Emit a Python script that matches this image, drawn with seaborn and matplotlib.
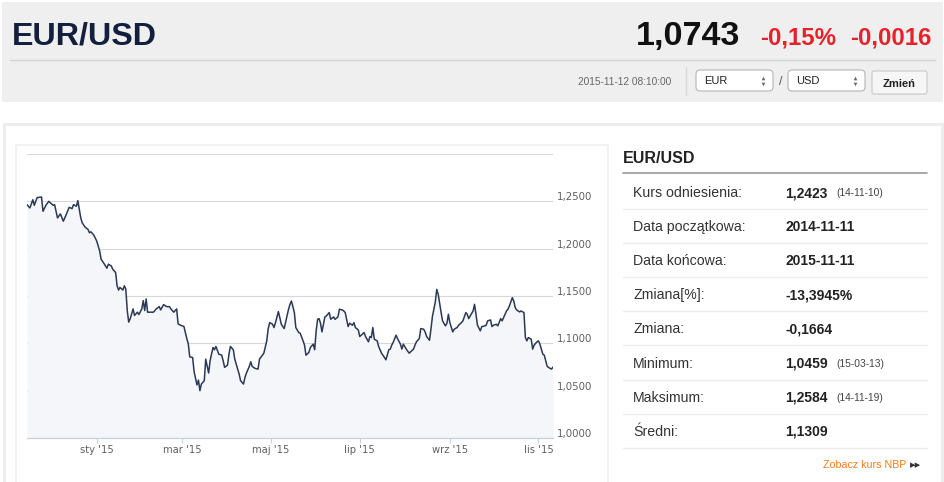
import matplotlib
matplotlib.use("Agg")
import matplotlib.pyplot as plt
import matplotlib.transforms as mtransforms
from matplotlib.patches import Rectangle, FancyBboxPatch
import pandas as pd
import seaborn as sns

# EUR/USD rate
dates = [
    "2014-11-14", "2014-11-16", "2014-11-18", "2014-11-19", "2014-11-21", "2014-11-24", "2014-11-25", "2014-11-27",
    "2014-11-29", "2014-12-02", "2014-12-03", "2014-12-05", "2014-12-07", "2014-12-09", "2014-12-11", "2014-12-13",
    "2014-12-15", "2014-12-16", "2014-12-18", "2014-12-19", "2014-12-21", "2014-12-22", "2014-12-24", "2014-12-26",
    "2014-12-27", "2014-12-28", "2014-12-30", "2015-01-01", "2015-01-03", "2015-01-04", "2015-01-06", "2015-01-08",
    "2015-01-09", "2015-01-11", "2015-01-12", "2015-01-14", "2015-01-15", "2015-01-16", "2015-01-17", "2015-01-19",
    "2015-01-20", "2015-01-21", "2015-01-22", "2015-01-23", "2015-01-24", "2015-01-26", "2015-01-27", "2015-01-29",
    "2015-01-30", "2015-02-01", "2015-02-02", "2015-02-03", "2015-02-04", "2015-02-05", "2015-02-07", "2015-02-09",
    "2015-02-11", "2015-02-13", "2015-02-14", "2015-02-16", "2015-02-18", "2015-02-20", "2015-02-21", "2015-02-23",
    "2015-02-25", "2015-02-26", "2015-02-28", "2015-03-02", "2015-03-04", "2015-03-05", "2015-03-06", "2015-03-08",
    "2015-03-09", "2015-03-11", "2015-03-12", "2015-03-13", "2015-03-14", "2015-03-16", "2015-03-17", "2015-03-19",
    "2015-03-20", "2015-03-22", "2015-03-23", "2015-03-24", "2015-03-26", "2015-03-28", "2015-03-29", "2015-03-30",
    "2015-04-01", "2015-04-02", "2015-04-03", "2015-04-05", "2015-04-06", "2015-04-07", "2015-04-09", "2015-04-10",
    "2015-04-12", "2015-04-13", "2015-04-14", "2015-04-16", "2015-04-17", "2015-04-18", "2015-04-20", "2015-04-22",
    "2015-04-23", "2015-04-25", "2015-04-26", "2015-04-28", "2015-04-29", "2015-04-30", "2015-05-02", "2015-05-03",
    "2015-05-04", "2015-05-06", "2015-05-07", "2015-05-08", "2015-05-10", "2015-05-11", "2015-05-13", "2015-05-14",
    "2015-05-15", "2015-05-17", "2015-05-18", "2015-05-20", "2015-05-21", "2015-05-23", "2015-05-24", "2015-05-25",
    "2015-05-27", "2015-05-28", "2015-05-30", "2015-05-31", "2015-06-01", "2015-06-02", "2015-06-03", "2015-06-04",
    "2015-06-05", "2015-06-07", "2015-06-08", "2015-06-10", "2015-06-11", "2015-06-13", "2015-06-14", "2015-06-16",
    "2015-06-17", "2015-06-19", "2015-06-20", "2015-06-21", "2015-06-23", "2015-06-24", "2015-06-26", "2015-06-27",
    "2015-06-28", "2015-06-30", "2015-07-01", "2015-07-02", "2015-07-04", "2015-07-05", "2015-07-07", "2015-07-08",
    "2015-07-09", "2015-07-10", "2015-07-11", "2015-07-13", "2015-07-14", "2015-07-16", "2015-07-18", "2015-07-19",
    "2015-07-21", "2015-07-22", "2015-07-23", "2015-07-24", "2015-07-26", "2015-07-27", "2015-07-29", "2015-07-30",
    "2015-07-31", "2015-08-02", "2015-08-04", "2015-08-05", "2015-08-07", "2015-08-08", "2015-08-09", "2015-08-11",
    "2015-08-12", "2015-08-14", "2015-08-15", "2015-08-16", "2015-08-18", "2015-08-19", "2015-08-20", "2015-08-22",
    "2015-08-23", "2015-08-24", "2015-08-26", "2015-08-27", "2015-08-29", "2015-08-30", "2015-08-31", "2015-09-01",
    "2015-09-03", "2015-09-04", "2015-09-06", "2015-09-07", "2015-09-09", "2015-09-10", "2015-09-12", "2015-09-13",
    "2015-09-14", "2015-09-15", "2015-09-17", "2015-09-18", "2015-09-19", "2015-09-20", "2015-09-22", "2015-09-23",
    "2015-09-25", "2015-09-26", "2015-09-27", "2015-09-29", "2015-09-30", "2015-10-01", "2015-10-03", "2015-10-04",
    "2015-10-06", "2015-10-07", "2015-10-08", "2015-10-10", "2015-10-11", "2015-10-12", "2015-10-14", "2015-10-15",
    "2015-10-16", "2015-10-17", "2015-10-19", "2015-10-20", "2015-10-22", "2015-10-23", "2015-10-24", "2015-10-25",
    "2015-10-27", "2015-10-28", "2015-10-29", "2015-10-31", "2015-11-01", "2015-11-02", "2015-11-04", "2015-11-05",
    "2015-11-07", "2015-11-08", "2015-11-09", "2015-11-10", "2015-11-11",
]
rates = [
    1.2465, 1.2430, 1.2517, 1.2458, 1.2540, 1.2545, 1.2395, 1.2458,
    1.2500, 1.2458, 1.2465, 1.2325, 1.2367, 1.2290, 1.2360, 1.2437,
    1.2423, 1.2465, 1.2448, 1.2507, 1.2325, 1.2273, 1.2227, 1.2203,
    1.2168, 1.2178, 1.2143, 1.2080, 1.1976, 1.1888, 1.1843, 1.1794,
    1.1836, 1.1818, 1.1783, 1.1748, 1.1608, 1.1563, 1.1590, 1.1563,
    1.1608, 1.1573, 1.1346, 1.1224, 1.1259, 1.1364, 1.1294, 1.1329,
    1.1304, 1.1364, 1.1451, 1.1346, 1.1469, 1.1329, 1.1329, 1.1329,
    1.1364, 1.1388, 1.1353, 1.1409, 1.1388, 1.1388, 1.1364, 1.1329,
    1.1364, 1.1206, 1.1189, 1.1178, 1.1049, 1.0996, 1.0857, 1.0850,
    1.0700, 1.0560, 1.0612, 1.0500, 1.0570, 1.0605, 1.0833, 1.0686,
    1.0816, 1.0956, 1.0932, 1.0967, 1.0886, 1.0875, 1.0816, 1.0746,
    1.0770, 1.0886, 1.0967, 1.0932, 1.0833, 1.0781, 1.0675, 1.0605,
    1.0570, 1.0640, 1.0686, 1.0756, 1.0805, 1.0756, 1.0735, 1.0728,
    1.0833, 1.0875, 1.0896, 1.1026, 1.1156, 1.1219, 1.1202, 1.1167,
    1.1219, 1.1335, 1.1272, 1.1202, 1.1156, 1.1226, 1.1360, 1.1412,
    1.1447, 1.1325, 1.1167, 1.1114, 1.1107, 1.1026, 1.0981, 1.0875,
    1.0904, 1.0956, 1.0991, 1.0932, 1.1132, 1.1254, 1.1261, 1.1212,
    1.1121, 1.1279, 1.1289, 1.1325, 1.1254, 1.1279, 1.1254, 1.1279,
    1.1360, 1.1353, 1.1342, 1.1325, 1.1177, 1.1212, 1.1191, 1.1219,
    1.1167, 1.1142, 1.1072, 1.1086, 1.1114, 1.1072, 1.1016, 1.1072,
    1.1061, 1.1167, 1.1044, 1.1026, 1.0967, 1.0896, 1.0851, 1.0826,
    1.0932, 1.0939, 1.0981, 1.1009, 1.1086, 1.1051, 1.0991, 1.0939,
    1.0991, 1.0939, 1.0896, 1.0910, 1.0939, 1.0981, 1.1016, 1.1051,
    1.1156, 1.1149, 1.1121, 1.1072, 1.1033, 1.1149, 1.1282, 1.1437,
    1.1570, 1.1518, 1.1325, 1.1237, 1.1184, 1.1212, 1.1307, 1.1219,
    1.1121, 1.1149, 1.1167, 1.1191, 1.1219, 1.1237, 1.1325, 1.1307,
    1.1261, 1.1289, 1.1342, 1.1412, 1.1307, 1.1191, 1.1132, 1.1177,
    1.1184, 1.1191, 1.1237, 1.1247, 1.1177, 1.1191, 1.1202, 1.1184,
    1.1261, 1.1237, 1.1272, 1.1342, 1.1360, 1.1395, 1.1482, 1.1447,
    1.1377, 1.1353, 1.1332, 1.1342, 1.1325, 1.1061, 1.1026, 1.1061,
    1.1044, 1.0939, 1.0981, 1.1016, 1.1026, 1.0991, 1.0886, 1.0875,
    1.0756, 1.0746, 1.0735, 1.0728, 1.0750,
]

month_ticks = ["2015-01-01", "2015-03-01", "2015-05-01", "2015-07-01", "2015-09-01", "2015-11-01"]
month_labels = ["sty '15", "mar '15", "maj '15", "lip '15", "wrz '15", "lis '15"]
rate_ticks = [1.00, 1.05, 1.10, 1.15, 1.20, 1.25, 1.30]

pair = "EUR/USD"
last_rate = "1,0743"
change_pct = "-0,15%"
change_abs = "-0,0016"
timestamp = "2015-11-12 08:10:00"
base_ccy = "EUR"
quote_ccy = "USD"

stat_labels = ["Kurs odniesienia:", "Data początkowa:", "Data końcowa:", "Zmiana[%]:",
               "Zmiana:", "Minimum:", "Maksimum:", "Średni:"]
stat_values = ["1,2423", "2014-11-11", "2015-11-11", "-13,3945%",
               "-0,1664", "1,0459", "1,2584", "1,1309"]
stat_notes = ["(14-11-10)", "", "", "", "", "(15-03-13)", "(14-11-19)", ""]

sns.set_style("white")
plt.rcParams['font.family'] = ['Liberation Sans', 'DejaVu Sans']

fig = plt.figure(figsize=(9.45, 4.82), dpi=100)

# page background drawn in pixel coordinates
bg = fig.add_axes([0, 0, 1, 1])
bg.set_xlim(0, 945)
bg.set_ylim(482, 0)
bg.axis("off")

# header band
bg.add_patch(Rectangle((2, 2), 941, 100, fc="#efefef", ec="none"))
bg.plot([10, 935], [60, 60], color="#d4d4d4", lw=1)
bg.text(12, 44.5, pair, fontsize=23.2, weight="bold", color="#13203d", va="baseline")
bg.text(636, 45, last_rate, fontsize=24.6, weight="bold", color="#111111", va="baseline")
bg.text(760, 45, change_pct, fontsize=17.3, weight="bold", color="#e5212b", va="baseline")
bg.text(850, 45, change_abs, fontsize=17.3, weight="bold", color="#e5212b", va="baseline")
bg.text(578, 85, timestamp, fontsize=7.3, color="#666666", va="baseline")
bg.plot([686, 686], [67, 95], color="#d8d8d8", lw=1)

for x0, ccy in [(696, base_ccy), (788, quote_ccy)]:
    bg.add_patch(FancyBboxPatch((x0, 70), 77, 21, boxstyle="round,pad=0,rounding_size=4",
                                fc="white", ec="#b5b5b5", lw=0.8))
    bg.text(x0 + 8, 84, ccy, fontsize=8, color="#222222", va="baseline")
    bg.plot(x0 + 67, 77.5, marker="^", ms=2.6, color="#666666", mec="none")
    bg.plot(x0 + 67, 83.5, marker="v", ms=2.6, color="#666666", mec="none")
bg.text(781, 85, "/", fontsize=9, color="#555555", va="baseline", ha="center")
bg.add_patch(FancyBboxPatch((872, 71), 55, 23, boxstyle="round,pad=0,rounding_size=2",
                            fc="#f6f6f6", ec="#c8c8c8", lw=0.8))
bg.text(899.5, 87, "Zmień", fontsize=8, weight="bold", color="#222222", va="baseline", ha="center")

# content panel and chart box
bg.add_patch(Rectangle((3.5, 123.5), 938, 362, fc="white", ec="#ededed", lw=2.2))
bg.add_patch(Rectangle((15.5, 144.5), 592, 345, fc="white", ec="#efefef", lw=1.2))

# statistics table on the right
bg.text(623, 163, pair, fontsize=11.5, weight="bold", color="#222222", va="baseline")
bg.plot([623, 927], [172.5, 172.5], color="#9a9a9a", lw=1.2)
for i, (lab, val, note) in enumerate(zip(stat_labels, stat_values, stat_notes)):
    base = 197 + 34.1 * i
    bg.text(633, base, lab, fontsize=10.2, color="#333333", va="baseline")
    bg.text(785, base, val, fontsize=10, weight="bold", color="#222222", va="baseline")
    if note:
        bg.text(836, base - 0.5, note, fontsize=7.4, color="#444444", va="baseline")
    sep = base + 12
    bg.plot([623, 927], [sep, sep], color="#ededed", lw=1)
bg.text(823, 468, "Zobacz kurs NBP", fontsize=7.7, color="#f47a20", va="baseline")
bg.text(910, 468, "▸▸", fontsize=8, weight="bold", color="#333333", va="baseline", family=["DejaVu Sans"])

# chart
df = pd.DataFrame({"date": pd.to_datetime(dates), "rate": rates})

ax = fig.add_axes([27 / 945, 1 - 438 / 482, 526 / 945, 284 / 482])
ax.set_zorder(2)
ax.set_facecolor("white")
ax.fill_between(df["date"], df["rate"], 1.0, color="#f4f6f9", lw=0)
sns.lineplot(data=df, x="date", y="rate", color="#2b3956", lw=1.1, ax=ax)

ax.set_xlim(df["date"].iloc[0], df["date"].iloc[-1])
ax.set_ylim(1.0, 1.3)
ax.set_xlabel("")
ax.set_ylabel("")

ax.set_xticks(pd.to_datetime(month_ticks), labels=month_labels)
ax.set_yticks(rate_ticks, labels=[f"{v:.4f}".replace(".", ",") if v < 1.3 else "" for v in rate_ticks])
ax.yaxis.grid(True, color="#d8d8d8", lw=0.8)
ax.xaxis.grid(False)

for side in ["top", "left", "right"]:
    ax.spines[side].set_visible(False)
ax.spines["bottom"].set_color("#c4d2e2")
ax.spines["bottom"].set_linewidth(0.9)

ax.tick_params(axis="x", bottom=True, direction="out", length=3.8, width=0.8, color="#c4d2e2",
               labelsize=7.2, labelcolor="#606060", pad=1.5)
ax.tick_params(axis="y", left=False, labelleft=False, right=False, labelright=True, length=0,
               labelsize=7.4, labelcolor="#606060", pad=3)
for lab in ax.get_xticklabels():
    lab.set_family(["DejaVu Sans"])

shift = mtransforms.ScaledTranslation(0, 5 / 100, fig.dpi_scale_trans)
for tick in ax.yaxis.get_major_ticks():
    tick.label2.set_transform(tick.label2.get_transform() + shift)
    tick.label2.set_family(["DejaVu Sans"])

fig.savefig("out.png", dpi=100)
